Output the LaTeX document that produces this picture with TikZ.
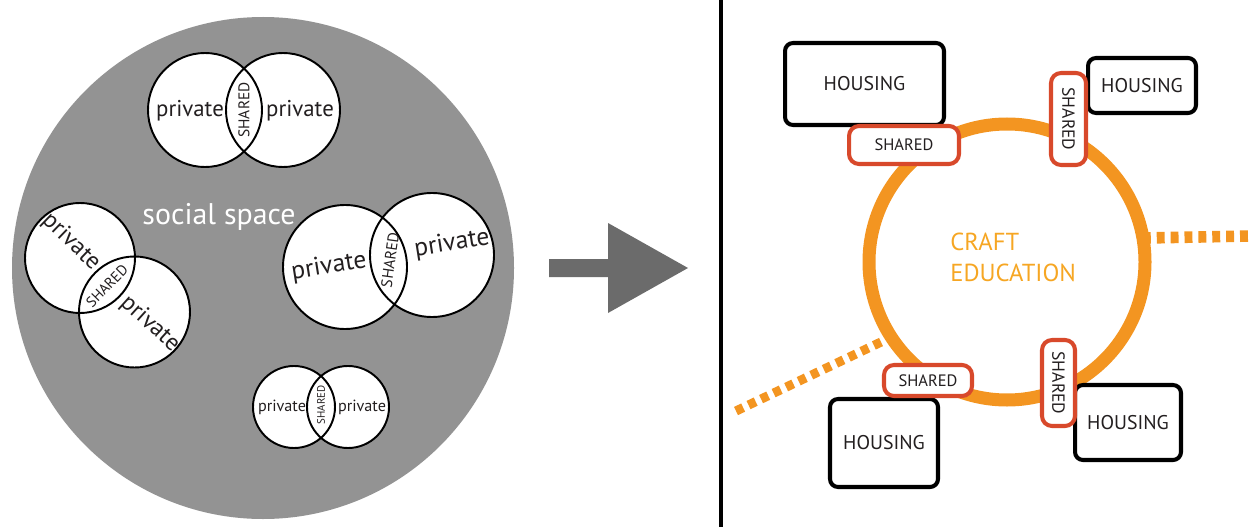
\documentclass[tikz,border=0pt]{standalone}
\usepackage{fontspec}
\setmainfont{PT Sans}
\definecolor{bggray}{HTML}{939393}
\definecolor{arrgray}{HTML}{6B6B6B}
\definecolor{ringor}{HTML}{F39521}
\definecolor{txtor}{HTML}{F6A623}
\definecolor{shred}{HTML}{D8492B}
\definecolor{ink}{HTML}{231F20}
\begin{document}
\begin{tikzpicture}[x=0.02cm,y=-0.02cm,
  vline/.style={draw=black, line width=1.1pt},
  pv/.style={inner sep=0pt, text=ink},
  housebox/.style={draw=black, line width=2.3pt, rounded corners=0.16cm, fill=white,
    inner sep=0pt, outer sep=0pt, text=ink, font=\fontsize{11.3}{13}\selectfont},
  sharebox/.style={draw=shred, line width=2.3pt, rounded corners=0.2cm, fill=white,
    inner sep=0pt, outer sep=0pt, text=ink, font=\fontsize{9.4}{11}\selectfont},
  dashline/.style={draw=ringor, dash pattern=on 4.5pt off 3.4pt},
]
\useasboundingbox (0,0) rectangle (1251,527);

% ---------- left panel ----------
\fill[bggray] (263,268) circle[radius=251];

% top venn
\fill[white] (205,110) circle[radius=57] (283,110) circle[radius=57];
\draw[vline] (205,110) circle[radius=57] (283,110) circle[radius=57];
\node[pv, font=\fontsize{13}{13}\selectfont] (t1) at (190,111) {private};
\node[pv, font=\fontsize{13}{13}\selectfont] (t2) at (300,111) {private};
\node[pv, font=\fontsize{8.8}{9}\selectfont, rotate=90] (t3) at (244,110) {SHARED};

% left venn
\fill[white] (80,258) circle[radius=55] (134.5,312) circle[radius=55.5];
\draw[vline] (80,258) circle[radius=55] (134.5,312) circle[radius=55.5];
\node[pv, font=\fontsize{13.6}{14}\selectfont, rotate=-44] (l1) at (71,242) {private};
\node[pv, font=\fontsize{13.6}{14}\selectfont, rotate=-42] (l2) at (150,324) {private};
\node[pv, font=\fontsize{8.4}{9}\selectfont, rotate=46] (l3) at (107,286) {SHARED};

% right venn
\fill[white] (345,267) circle[radius=62] (432,255) circle[radius=62];
\draw[vline] (345,267) circle[radius=62] (432,255) circle[radius=62];
\node[pv, font=\fontsize{14.5}{14.5}\selectfont, rotate=9] (r1) at (329,267) {private};
\node[pv, font=\fontsize{14.5}{14.5}\selectfont, rotate=9] (r2) at (452,244) {private};
\node[pv, font=\fontsize{8.8}{9}\selectfont, rotate=82] (r3) at (390,260) {SHARED};

% bottom venn
\fill[white] (294,407) circle[radius=41] (348,407) circle[radius=41];
\draw[vline] (294,407) circle[radius=41] (348,407) circle[radius=41];
\node[pv, font=\fontsize{9.2}{9.2}\selectfont] (b1) at (282,407) {private};
\node[pv, font=\fontsize{9.2}{9.2}\selectfont] (b2) at (362,407) {private};
\node[pv, font=\fontsize{6.2}{6.5}\selectfont, rotate=90] (b3) at (321,405) {SHARED};

\node[inner sep=0pt, text=white, font=\fontsize{17}{17}\selectfont] (soc) at (219,217) {social space};

% ---------- arrow ----------
\fill[arrgray] (549,259) -- (608,259) -- (608,223) -- (688,268) -- (608,313) -- (608,277) -- (549,277) -- cycle;

% ---------- divider ----------
\coordinate (dtop) at (721,0);
\coordinate (dbot) at (721,527);
\draw[line width=2.3pt] (dtop) -- (dbot);

% ---------- right panel ----------
\node[circle, inner sep=0pt, outer sep=0pt, minimum size=5.52cm] (ring) at (1007,262) {};
\coordinate (ldash) at (736,411);
\coordinate (rdash) at (1251,236);
\draw[dashline, line width=5.2pt] (ldash) -- (ring.213.6);
\draw[dashline, line width=6.6pt] (ring.10.9) -- (rdash);
\draw[ringor, line width=7.4pt] (ring.center) circle[radius=138];

\node[inner sep=0pt, align=left, anchor=west, text=txtor, font=\fontsize{14}{17.6}\selectfont] (craft) at (950,257) {CRAFT\\EDUCATION};

\node[housebox, minimum width=3.18cm, minimum height=1.64cm] (h1) at (864.5,84) {HOUSING};
\node[housebox, minimum width=2.16cm, minimum height=1.10cm] (h2) at (1142,85.5) {HOUSING};
\node[housebox, minimum width=2.16cm, minimum height=1.76cm] (h3) at (884,443) {HOUSING};
\node[housebox, minimum width=2.12cm, minimum height=1.50cm] (h4) at (1128,422.5) {HOUSING};

\node[sharebox, minimum width=2.20cm, minimum height=0.76cm] (s1) at (904,145) {SHARED};
\node[sharebox, minimum width=1.84cm, minimum height=0.70cm, rotate=-90, font=\fontsize{10}{11}\selectfont] (s2) at (1068.5,119) {SHARED};
\node[sharebox, minimum width=1.76cm, minimum height=0.62cm] (s3) at (928,380.5) {SHARED};
\node[sharebox, minimum width=1.72cm, minimum height=0.66cm, rotate=-90, font=\fontsize{10}{11}\selectfont] (s4) at (1058.5,383) {SHARED};
\end{tikzpicture}
\end{document}
